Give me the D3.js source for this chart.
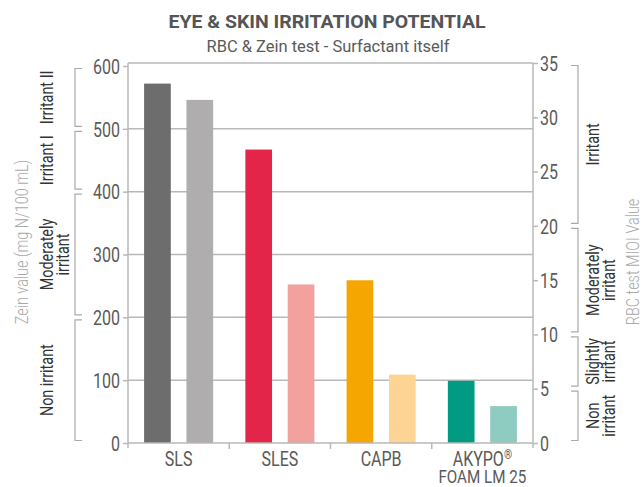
<!DOCTYPE html>
<html>
<head>
<meta charset="utf-8">
<script src="https://d3js.org/d3.v7.min.js"></script>
<style>
  body { margin: 0; background: #fff; }
  text { font-family: Roboto, "Liberation Sans", sans-serif; font-weight: 400; }
</style>
</head>
<body>
<div id="chart"></div>
<script>
// data
var categories = ["SLS", "SLES", "CAPB", "AKYPO"];
var zeinValues = [572, 467, 259, 99];      // left axis, mg N/100 mL
var rbcValues = [31.6, 14.6, 6.3, 3.4];    // right axis, MIOI
var darkColors = ["#6d6d6d", "#e3254a", "#f6a600", "#009b82"];
var lightColors = ["#afadad", "#f2a19e", "#fdd493", "#8ecbc0"];
var leftTicks = [0, 100, 200, 300, 400, 500, 600];
var rightTicks = [0, 5, 10, 15, 20, 25, 30, 35];
var leftClasses = [
  { lines: ["Irritant II"], from: 500, to: 600 },
  { lines: ["Irritant I"], from: 400, to: 500 },
  { lines: ["Moderately", "irritant"], from: 200, to: 400 },
  { lines: ["Non irritant"], from: 0, to: 200 }
];
var rightClasses = [
  { lines: ["Irritant"], from: 20, to: 35 },
  { lines: ["Moderately", "irritant"], from: 10, to: 20 },
  { lines: ["Slightly", "irritant"], from: 5, to: 10 },
  { lines: ["Non", "irritant"], from: 0, to: 5 }
];

var W = 643, H = 487;
var plot = { left: 128, right: 533, top: 63, bottom: 443 };
var textGrey = "#5a5a5a", lineGrey = "#b8b8b8", axisTitleGrey = "#aaa";
var squeeze = 0.8;   // the original uses a condensed face

var svg = d3.select("#chart").append("svg")
  .attr("width", W).attr("height", H);

var x0 = d3.scaleBand().domain(categories).range([plot.left, plot.right]);
var x1 = d3.scaleBand().domain(["zein", "rbc"]).range([0, x0.bandwidth()])
  .paddingInner(0.37).paddingOuter(0.38);
var yL = d3.scaleLinear().domain([0, 600]).range([plot.bottom, 66]);
var yR = d3.scaleLinear().domain([0, 35]).range([plot.bottom, plot.top]);

// condensed text helper
function label(parent, x, y, rot, str, size, fill, anchor) {
  return parent.append("text")
    .attr("transform", "translate(" + x + "," + y + ")" + (rot ? " rotate(" + rot + ")" : "") + " scale(" + squeeze + ",1)")
    .attr("text-anchor", anchor || "middle")
    .style("font-size", size + "px").style("fill", fill)
    .text(str);
}

// title
svg.append("text")
  .attr("x", 327).attr("y", 28)
  .attr("text-anchor", "middle")
  .attr("textLength", 317).attr("lengthAdjust", "spacingAndGlyphs")
  .style("font-size", "19px").style("font-weight", "bold").style("fill", "#555")
  .text("EYE & SKIN IRRITATION POTENTIAL");
svg.append("text")
  .attr("x", 328).attr("y", 52)
  .attr("text-anchor", "middle")
  .attr("textLength", 243).attr("lengthAdjust", "spacingAndGlyphs")
  .style("font-size", "17px").style("fill", textGrey)
  .text("RBC & Zein test - Surfactant itself");

// gridlines
svg.append("g").selectAll("line")
  .data(leftTicks.filter(function (d) { return d > 0 && d < 600; }))
  .enter().append("line")
  .attr("x1", plot.left).attr("x2", plot.right)
  .attr("y1", function (d) { return yL(d); })
  .attr("y2", function (d) { return yL(d); })
  .style("stroke", lineGrey).style("stroke-width", 1.5);
svg.append("line")
  .attr("x1", plot.left).attr("x2", plot.right)
  .attr("y1", yR(35)).attr("y2", yR(35))
  .style("stroke", lineGrey).style("stroke-width", 1.5);

// bars
var groups = svg.append("g").selectAll("g")
  .data(categories)
  .enter().append("g")
  .attr("transform", function (d) { return "translate(" + x0(d) + ",0)"; });

groups.append("rect")
  .attr("x", x1("zein"))
  .attr("width", x1.bandwidth())
  .attr("y", function (d, i) { return yL(zeinValues[i]); })
  .attr("height", function (d, i) { return yL(0) - yL(zeinValues[i]); })
  .style("fill", function (d, i) { return darkColors[i]; });

groups.append("rect")
  .attr("x", x1("rbc"))
  .attr("width", x1.bandwidth())
  .attr("y", function (d, i) { return yR(rbcValues[i]); })
  .attr("height", function (d, i) { return yR(0) - yR(rbcValues[i]); })
  .style("fill", function (d, i) { return lightColors[i]; });

// axes
var leftAxis = svg.append("g")
  .attr("transform", "translate(" + plot.left + ",0)")
  .call(d3.axisLeft(yL).tickValues(leftTicks).tickSize(5).tickSizeOuter(0));
var rightAxis = svg.append("g")
  .attr("transform", "translate(" + plot.right + ",0)")
  .call(d3.axisRight(yR).tickValues(rightTicks).tickSize(5).tickSizeOuter(0));

[[leftAxis, -8], [rightAxis, 7]].forEach(function (a) {
  var ax = a[0];
  ax.select(".domain").remove();
  ax.selectAll(".tick line").style("stroke", lineGrey).style("stroke-width", 1.5);
  ax.selectAll(".tick text")
    .attr("x", 0).attr("dy", "0.36em")
    .attr("transform", "translate(" + a[1] + ",0) scale(" + squeeze + ",1)")
    .style("font-size", "20px").style("fill", textGrey)
    .style("font-family", "Roboto, sans-serif").style("font-weight", 400);
});

// vertical axis lines and bottom line
svg.append("line")
  .attr("x1", plot.left).attr("x2", plot.left)
  .attr("y1", plot.top).attr("y2", plot.bottom + 5)
  .style("stroke", lineGrey).style("stroke-width", 1.5);
svg.append("line")
  .attr("x1", plot.right).attr("x2", plot.right)
  .attr("y1", plot.top).attr("y2", plot.bottom + 5)
  .style("stroke", lineGrey).style("stroke-width", 1.5);
svg.append("line")
  .attr("x1", plot.left).attr("x2", plot.right)
  .attr("y1", plot.bottom).attr("y2", plot.bottom)
  .style("stroke", lineGrey).style("stroke-width", 1.5);

// category boundary ticks
svg.append("g").selectAll("line")
  .data(categories.slice(1))
  .enter().append("line")
  .attr("x1", function (d) { return x0(d); })
  .attr("x2", function (d) { return x0(d); })
  .attr("y1", plot.bottom).attr("y2", plot.bottom + 6)
  .style("stroke", lineGrey).style("stroke-width", 1.5);

// category labels
var catG = svg.append("g");
categories.forEach(function (c) {
  var t = label(catG, x0(c) + x0.bandwidth() / 2, 466, 0, c, 20, textGrey);
  if (c === "AKYPO") {
    t.append("tspan").attr("dy", -7).style("font-size", "13px").text("®");
    label(catG, x0(c) + x0.bandwidth() / 2, 483, 0, "FOAM LM 25", 19, textGrey);
  }
});

// classification brackets
function drawClasses(list, scale, side) {
  var g = svg.append("g");
  var bx = side === "left" ? 75 : 578;
  var serif = side === "left" ? 7 : -7;
  var textX = side === "left" ? 53 : 599;

  list.forEach(function (c) {
    var yTop = scale(c.to) + 2.5, yBot = scale(c.from) - 2.5;
    g.append("path")
      .attr("d", "M" + (bx + serif) + "," + yTop + "H" + bx + "V" + yBot + "H" + (bx + serif))
      .style("fill", "none").style("stroke", axisTitleGrey).style("stroke-width", 1.2);

    var mid = (yTop + yBot) / 2;
    c.lines.forEach(function (line, j) {
      label(g, textX + j * 16, mid, -90, line, 18, "#333");
    });
  });
}
drawClasses(leftClasses, yL, "left");
drawClasses(rightClasses, yR, "right");

// axis titles
label(svg, 28, 242, -90, "Zein value (mg N/100 mL)", 18, axisTitleGrey).style("font-weight", 300);
label(svg, 639, 262, -90, "RBC test MIOI Value", 18, axisTitleGrey).style("font-weight", 300);
</script>
</body>
</html>
